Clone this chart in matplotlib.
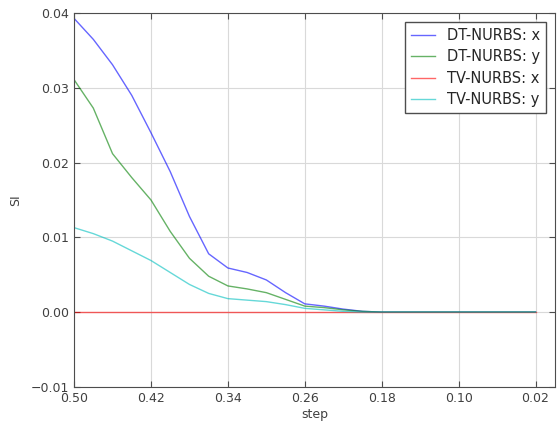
import numpy as np
import matplotlib
matplotlib.use("Agg")
from matplotlib import pyplot as plt

# step values (x axis runs from 0.50 down to 0.02)
steps = [0.50, 0.48, 0.46, 0.44, 0.42, 0.40, 0.38, 0.36, 0.34, 0.32, 0.30, 0.28, 0.26,
         0.24, 0.22, 0.20, 0.18, 0.16, 0.14, 0.12, 0.10, 0.08, 0.06, 0.04, 0.02]

dt_x = [0.0393, 0.0365, 0.0331, 0.0290, 0.0240, 0.0188, 0.0128, 0.0078, 0.0059, 0.0053,
        0.0043, 0.0026, 0.0011, 0.0008, 0.0004, 0.0001, 0.0, 0.0, 0.0, 0.0, 0.0, 0.0,
        0.0, 0.0, 0.0]
dt_y = [0.0311, 0.0273, 0.0212, 0.0180, 0.0150, 0.0108, 0.0072, 0.0048, 0.0035, 0.0031,
        0.0026, 0.0017, 0.0008, 0.0006, 0.0003, 0.0001, 0.0, 0.0, 0.0, 0.0, 0.0, 0.0,
        0.0, 0.0, 0.0]
tv_x = [0.0] * len(steps)
tv_y = [0.0113, 0.0105, 0.0095, 0.0082, 0.0069, 0.0053, 0.0037, 0.0025, 0.0018, 0.0016,
        0.0014, 0.0010, 0.0005, 0.0003, 0.0001, 0.0, 0.0, 0.0, 0.0, 0.0, 0.0, 0.0,
        0.0, 0.0, 0.0]

xticks = [0.50, 0.42, 0.34, 0.26, 0.18, 0.10, 0.02]
yticks = [-0.01, 0.00, 0.01, 0.02, 0.03, 0.04]

fig = plt.figure(figsize=(5.57, 4.26), dpi=100)
ax = fig.add_axes([0.133, 0.092, 0.863, 0.877])

ax.plot(steps, dt_x, color='b', alpha=0.6, lw=1, label="DT-NURBS: x")
ax.plot(steps, dt_y, color='g', alpha=0.6, lw=1, label="DT-NURBS: y")
ax.plot(steps, tv_x, color='r', alpha=0.6, lw=1, label="TV-NURBS: x")
ax.plot(steps, tv_y, color='c', alpha=0.6, lw=1, label="TV-NURBS: y")

ax.set_xlim(0.5, 0.0)
ax.set_ylim(-0.01, 0.04)
ax.set_xticks(xticks)
ax.set_xticklabels(["%.2f" % t for t in xticks])
ax.set_yticks(yticks)
ax.set_yticklabels(["\u22120.01", "0.00", "0.01", "0.02", "0.03", "0.04"])
ax.tick_params(direction='in', labelsize=9, length=4, color='0.3', labelcolor='0.25')
ax.tick_params(axis='x', pad=4)
ax.tick_params(top=True, right=True)
ax.grid(True, ls='-', color='0.85', lw=0.8)
for sp in ax.spines.values():
    sp.set_color('0.3')

ax.set_xlabel("step", fontsize=9, color='0.25', labelpad=2)
ax.set_ylabel("SI", fontsize=9, color='0.25', labelpad=6)

lg = ax.legend(loc="upper right", fontsize=10.5, fancybox=False, framealpha=1,
               handlelength=1.7, borderaxespad=0.6, labelspacing=0.45)
lg.get_frame().set_edgecolor('0.3')
for t in lg.get_texts():
    t.set_color('0.15')

fig.savefig("out.png", dpi=100)
